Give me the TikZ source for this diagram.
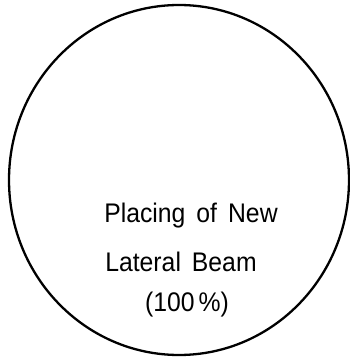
\documentclass[tikz,border=0pt]{standalone}
\usepackage{fontspec}
\setmainfont{Liberation Sans}
\begin{document}
\begin{tikzpicture}[x=1bp,y=1bp,
  lbl/.style={font=\fontsize{27}{27}\selectfont, inner sep=0pt, anchor=center}]
\useasboundingbox (0,0) rectangle (350,357);
\draw[line width=2.3bp] (179,177) ellipse [x radius=170, y radius=175] ;
\node[lbl] (l1) at (191,141) {\scalebox{0.92}[1]{Placing\ \,of\ \,New}};
\node[lbl] (l2) at (181,95) {\scalebox{0.92}[1]{Lateral\ \,Beam}};
\node[lbl] (l3) at (187,52) {\scalebox{0.92}[1]{(100\,\%)}};
\end{tikzpicture}
\end{document}
